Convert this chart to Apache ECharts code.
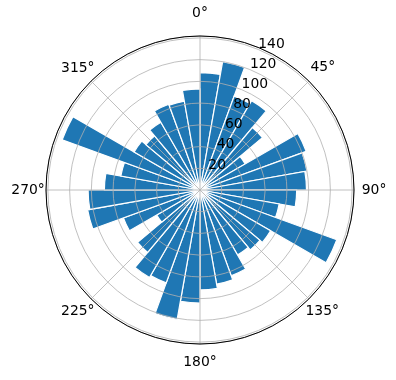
<!DOCTYPE html>
<html>
<head>
<meta charset="utf-8">
<script src="https://cdn.jsdelivr.net/npm/echarts@6/dist/echarts.min.js"></script>
<style>
  html, body { margin: 0; background: #fff; }
  #chart { width: 396px; height: 380px; }
</style>
</head>
<body>
<div id="chart"></div>
<script>
  // 36 bins of 10 degrees, clockwise from north
  const binStarts = ['0', '10', '20', '30', '40', '50', '60', '70', '80',
    '90', '100', '110', '120', '130', '140', '150', '160', '170',
    '180', '190', '200', '210', '220', '230', '240', '250', '260',
    '270', '280', '290', '300', '310', '320', '330', '340', '350'];
  const radii = [108, 120, 92, 95, 75, 48, 104, 100, 98,
    89, 74, 134, 75, 72, 69, 84, 88, 92,
    104, 121, 91, 93, 75, 46, 75, 105, 103,
    88, 74, 135, 70, 65, 72, 84, 83, 93];

  // matplotlib-like autoscale: data max plus 5% margin
  const rMax = Math.max(...radii) * 1.05;

  const font = 'DejaVu Sans';
  const center = [200, 190];
  const radius = 154;

  // rich style key per theta label, padding nudges them to sit centred like matplotlib's
  const thetaKey = {
    0: 't', 45: 'ne', 90: 'e', 135: 'se', 180: 'b', 225: 'sw', 270: 'w', 315: 'nw'
  };
  function thetaStyle(pad) {
    return { fontFamily: font, fontSize: 13.9, color: '#000', padding: pad };
  }

  const chart = echarts.init(document.getElementById('chart'));
  chart.setOption({
    animation: false,
    polar: [
      { center: center, radius: radius },   // bars
      { center: center, radius: radius },   // grid + angle labels
      { center: center, radius: radius }    // radius labels at 22.5 deg
    ],
    angleAxis: [
      {
        polarIndex: 0,
        type: 'category',
        data: binStarts,
        startAngle: 90,
        clockwise: true,
        axisLine: { show: false },
        axisTick: { show: false },
        axisLabel: { show: false },
        splitLine: { show: false }
      },
      {
        polarIndex: 1,
        type: 'value',
        min: 0,
        max: 360,
        interval: 45,
        startAngle: 90,
        clockwise: true,
        z: 5,
        axisLine: { lineStyle: { color: '#000', width: 1 } },
        axisTick: { show: false },
        axisLabel: {
          margin: -4.8,
          color: '#000',
          fontFamily: font,
          fontSize: 13.9,
          formatter: function (v) {
            if (v === 360) return '';
            return '{' + thetaKey[v] + '|' + v + '°}';
          },
          rich: {
            t: thetaStyle([0, 0, 20, 0]),
            ne: thetaStyle([0, 0, 10, 5]),
            e: thetaStyle([0, 0, 0, 12.5]),
            se: thetaStyle([9, 0, 0, 0]),
            b: thetaStyle([16, 0, 0, 0]),
            sw: thetaStyle([9, 0, 0, 0]),
            w: thetaStyle([0, 6, 0, 0]),
            nw: thetaStyle([0, 0, 9, 0])
          }
        },
        splitLine: { lineStyle: { color: '#b0b0b0', width: 0.8 } }
      },
      {
        polarIndex: 2,
        type: 'value',
        min: 0,
        max: 360,
        startAngle: 67.5,
        clockwise: true,
        axisLine: { show: false },
        axisTick: { show: false },
        axisLabel: { show: false },
        splitLine: { show: false }
      }
    ],
    radiusAxis: [
      {
        polarIndex: 0,
        type: 'value',
        min: 0,
        max: rMax,
        axisLine: { show: false },
        axisTick: { show: false },
        axisLabel: { show: false },
        splitLine: { show: false }
      },
      {
        polarIndex: 1,
        type: 'value',
        min: 0,
        max: rMax,
        interval: 20,
        z: 5,
        axisLine: { show: false },
        axisTick: { show: false },
        axisLabel: { show: false },
        splitLine: { lineStyle: { color: '#b0b0b0', width: 0.8 } }
      },
      {
        polarIndex: 2,
        type: 'value',
        min: 0,
        max: rMax,
        interval: 20,
        z: 6,
        axisLine: { show: false },
        axisTick: { show: false },
        splitLine: { show: false },
        axisLabel: {
          margin: 0,
          align: 'left',
          verticalAlign: 'bottom',
          lineHeight: 10,
          color: '#000',
          fontFamily: font,
          fontSize: 13.9,
          formatter: function (v) { return (v > 0 && v % 20 === 0) ? String(v) : ''; }
        }
      }
    ],
    series: [
      {
        type: 'bar',
        coordinateSystem: 'polar',
        polarIndex: 0,
        data: radii,
        barCategoryGap: '0%',
        itemStyle: { color: '#1f77b4', borderColor: '#fff', borderWidth: 1.2 }
      }
    ]
  });
</script>
</body>
</html>
